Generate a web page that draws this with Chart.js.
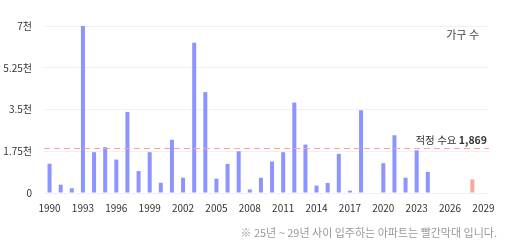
<!DOCTYPE html>
<html><head><meta charset="utf-8">
<script src="https://cdn.jsdelivr.net/npm/chart.js@4"></script>
<style>
html,body{margin:0;padding:0;background:#fff;}
#wrap{position:relative;width:509px;height:244px;}
#note{position:absolute;right:12px;top:224px;font:11px "Noto Sans CJK KR",sans-serif;color:#999;white-space:nowrap;}
#unit{position:absolute;right:30px;top:26px;font:11px "Noto Sans CJK KR",sans-serif;color:#444;}
</style></head>
<body>
<div id="wrap">
<canvas id="c" width="509" height="244"></canvas>
<div id="unit">가구 수</div>
<div id="note">※ 25년 ~ 29년 사이 입주하는 아파트는 빨간막대 입니다.</div>
</div>
<script>
const years = [1990,1991,1992,1993,1994,1995,1996,1997,1998,1999,2000,2001,2002,2003,2004,2005,2006,2007,2008,2009,2010,2011,2012,2013,2014,2015,2016,2017,2018,2019,2020,2021,2022,2023,2024,2025,2026,2027,2028,2029];
const households = [1230,350,200,7000,1710,1920,1400,3400,920,1710,430,2230,640,6300,4230,600,1220,1750,150,640,1320,1710,3790,2030,310,420,1640,100,3470,0,1250,2420,640,1790,880,0,0,0,570,0];
const demand = 1869;
const yTicks = [0,1750,3500,5250,7000];
const futureFrom = 2025;
const barColors = years.map(y => y >= futureFrom ? '#f8a99b' : '#8c94ff');

const demandLine = {
  id:'demandLine',
  afterDatasetsDraw(chart){
    const {ctx, chartArea:a, scales:{y}} = chart;
    const py = Math.round(y.getPixelForValue(demand))+0.5;
    ctx.save();
    ctx.strokeStyle='#ff9f9f';
    ctx.lineWidth=1;
    ctx.setLineDash([6,4]);
    ctx.beginPath(); ctx.moveTo(a.left,py); ctx.lineTo(a.right,py); ctx.stroke();
    ctx.setLineDash([]);
    ctx.textAlign='right'; ctx.textBaseline='bottom';
    ctx.fillStyle='#333';
    ctx.font='bold 10.5px "Noto Sans CJK KR", sans-serif';
    const num = demand.toLocaleString('en-US');
    const w = ctx.measureText(num).width;
    ctx.fillText(num, a.right-2, py-3);
    ctx.font='10.5px "Noto Sans CJK KR", sans-serif';
    ctx.fillText('적정 수요 ', a.right-2-w, py-3);
    ctx.restore();
  }
};

new Chart(document.getElementById('c'), {
  type:'bar',
  data:{labels:years.map(String), datasets:[{data:households, backgroundColor:barColors, categoryPercentage:0.4, barPercentage:0.9}]},
  options:{
    responsive:false, animation:false,
    layout:{padding:{left:0,right:20,top:26,bottom:21}},
    plugins:{legend:{display:false}, tooltip:{enabled:false}},
    scales:{
      x:{
        grid:{display:false, drawTicks:false},
        border:{display:false},
        ticks:{autoSkip:false, maxRotation:0, padding:9, color:'#333', font:{family:'"Noto Sans CJK KR", sans-serif', size:10},
          callback:function(v,i){ return (years[i]-1990)%3===0 ? years[i] : ''; }}
      },
      y:{
        min:0, max:7000,
        afterBuildTicks(axis){ axis.ticks = yTicks.map(v=>({value:v})); },
        afterFit(axis){ axis.width = 44; },
        grid:{color:'#f0f0f0', drawTicks:false},
        border:{display:false},
        ticks:{padding:12, color:'#333', font:{family:'"Noto Sans CJK KR", sans-serif', size:10},
          callback:v => v===0 ? '0' : (v/1000)+'천'}
      }
    }
  },
  plugins:[demandLine]
});
</script>
</body></html>
